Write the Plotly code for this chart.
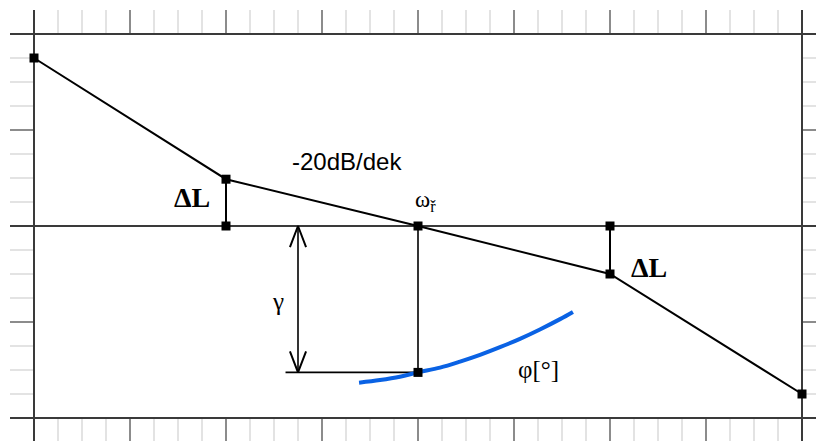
import plotly.graph_objects as go

# Asymptotic magnitude plot: x in decades relative to the crossover frequency, y in dB
bode_x = [-2, -1, 0, 1, 2]
bode_db = [70, 19.5, 0, -20, -70]

# Phase curve around the crossover frequency (same vertical scale)
phase_x = [-0.307, -0.198, -0.094, 0.0, 0.115, 0.219, 0.323, 0.427, 0.531, 0.635, 0.740, 0.807]
phase_y = [-65.3, -64.2, -62.8, -61.0, -59.0, -56.5, -53.7, -50.5, -47.0, -43.1, -38.8, -35.8]

# Gain margin points (ΔL) and phase margin (γ)
dl_x = [-1, 1]
dl_db = [19.5, -20]
crossover_x = 0
phase_at_cross = -61.0
gamma_x = -0.625
gamma_base_start = -0.69

# Frame extents
frame_x = [-2, 2]
frame_y = [-80, 80]

# Sheet extents (axis ranges)
sheet_x = [-2.125, 398 / 192]
sheet_y = [-215 / 2.4, 90]

# Labels
slope_label = "-20dB/dek"
dl_label = "ΔL"
gamma_label = "γ"
phi_label = "φ[°]"
omega_label = "ω<sub>ř</sub>"

BLACK = "#000000"
FRAME = "#3a3a3a"
BLUE = "#0a62e4"

fig = go.Figure()

# Bode magnitude asymptotes
fig.add_trace(go.Scatter(x=bode_x, y=bode_db, mode="lines",
                         line=dict(color=BLACK, width=2), hoverinfo="skip"))

# ΔL vertical segments
for xv, yv in zip(dl_x, dl_db):
    fig.add_trace(go.Scatter(x=[xv, xv], y=[0, yv], mode="lines",
                             line=dict(color=BLACK, width=2), hoverinfo="skip"))

# Drop from crossover to phase curve, and the γ reference line
fig.add_trace(go.Scatter(x=[crossover_x, crossover_x], y=[0, phase_at_cross], mode="lines",
                         line=dict(color=BLACK, width=1.6), hoverinfo="skip"))
fig.add_trace(go.Scatter(x=[gamma_base_start, crossover_x], y=[phase_at_cross, phase_at_cross],
                         mode="lines", line=dict(color=BLACK, width=1.6), hoverinfo="skip"))

# γ double arrow shaft
fig.add_trace(go.Scatter(x=[gamma_x, gamma_x], y=[0, phase_at_cross], mode="lines",
                         line=dict(color=BLACK, width=1.6), hoverinfo="skip"))
# open arrow heads
bw, bh = 0.042, 8.8
for tip, sgn in [(0, -1), (phase_at_cross, 1)]:
    fig.add_trace(go.Scatter(x=[gamma_x - bw, gamma_x, gamma_x + bw],
                             y=[tip + sgn * bh, tip, tip + sgn * bh], mode="lines",
                             line=dict(color=BLACK, width=2), hoverinfo="skip"))

# Phase curve
fig.add_trace(go.Scatter(x=phase_x, y=phase_y, mode="lines", line_shape="spline",
                         line=dict(color=BLUE, width=4), hoverinfo="skip"))

# Square markers at the characteristic points
mk_x = bode_x + dl_x + [crossover_x]
mk_y = bode_db + [0, 0] + [phase_at_cross]
fig.add_trace(go.Scatter(x=mk_x, y=mk_y, mode="markers",
                         marker=dict(symbol="square", size=9, color=BLACK),
                         hoverinfo="skip"))

shapes = [
    # white plotting field covering the grid
    dict(type="rect", xref="x", yref="y", x0=frame_x[0], x1=frame_x[1],
         y0=frame_y[0], y1=frame_y[1], fillcolor="white", line_width=0, layer="between"),
]
# frame lines and the 0 dB line running across the whole sheet
for yv in [frame_y[0], 0, frame_y[1]]:
    shapes.append(dict(type="line", xref="x", yref="y", x0=sheet_x[0], x1=sheet_x[1],
                       y0=yv, y1=yv, line=dict(color=FRAME, width=2), layer="between"))
for xv in frame_x:
    shapes.append(dict(type="line", xref="x", yref="y", x0=xv, x1=xv,
                       y0=sheet_y[0], y1=sheet_y[1],
                       line=dict(color=FRAME, width=2), layer="between"))

serif = "Liberation Serif, Times New Roman, serif"
annotations = [
    dict(x=-0.37, y=26.7, text=slope_label,
         font=dict(family="Liberation Sans, Arial, sans-serif", size=24, color=BLACK)),
    dict(x=-1.177, y=11.7, text=f"<b>{dl_label}</b>",
         font=dict(family=serif, size=28, color=BLACK)),
    dict(x=1.203, y=-17.1, text=f"<b>{dl_label}</b>",
         font=dict(family=serif, size=28, color=BLACK)),
    dict(x=-0.729, y=-31.5, text=gamma_label,
         font=dict(family=serif, size=25, color=BLACK)),
    dict(x=0.63, y=-59.6, text=phi_label,
         font=dict(family=serif, size=25, color=BLACK)),
    dict(x=0.04, y=10.5, text=omega_label,
         font=dict(family=serif, size=23, color=BLACK)),
]
for a in annotations:
    a.update(xref="x", yref="y", showarrow=False, xanchor="center", yanchor="middle")

fig.update_layout(
    width=816, height=441,
    margin=dict(l=10, r=0, t=10, b=0),
    paper_bgcolor="white", plot_bgcolor="white",
    showlegend=False,
    shapes=shapes,
    annotations=annotations,
    xaxis=dict(range=sheet_x, tick0=0, dtick=0.5, showticklabels=False,
               showgrid=True, gridcolor="#8c8c8c", gridwidth=2, zeroline=False,
               minor=dict(tick0=0, dtick=0.125, showgrid=True, gridcolor="#e3e3e3", gridwidth=2),
               fixedrange=True),
    yaxis=dict(range=sheet_y, tick0=0, dtick=40, showticklabels=False,
               showgrid=True, gridcolor="#8c8c8c", gridwidth=2, zeroline=False,
               minor=dict(tick0=0, dtick=10, showgrid=True, gridcolor="#e3e3e3", gridwidth=2),
               fixedrange=True),
)

fig.write_html("out.html")
